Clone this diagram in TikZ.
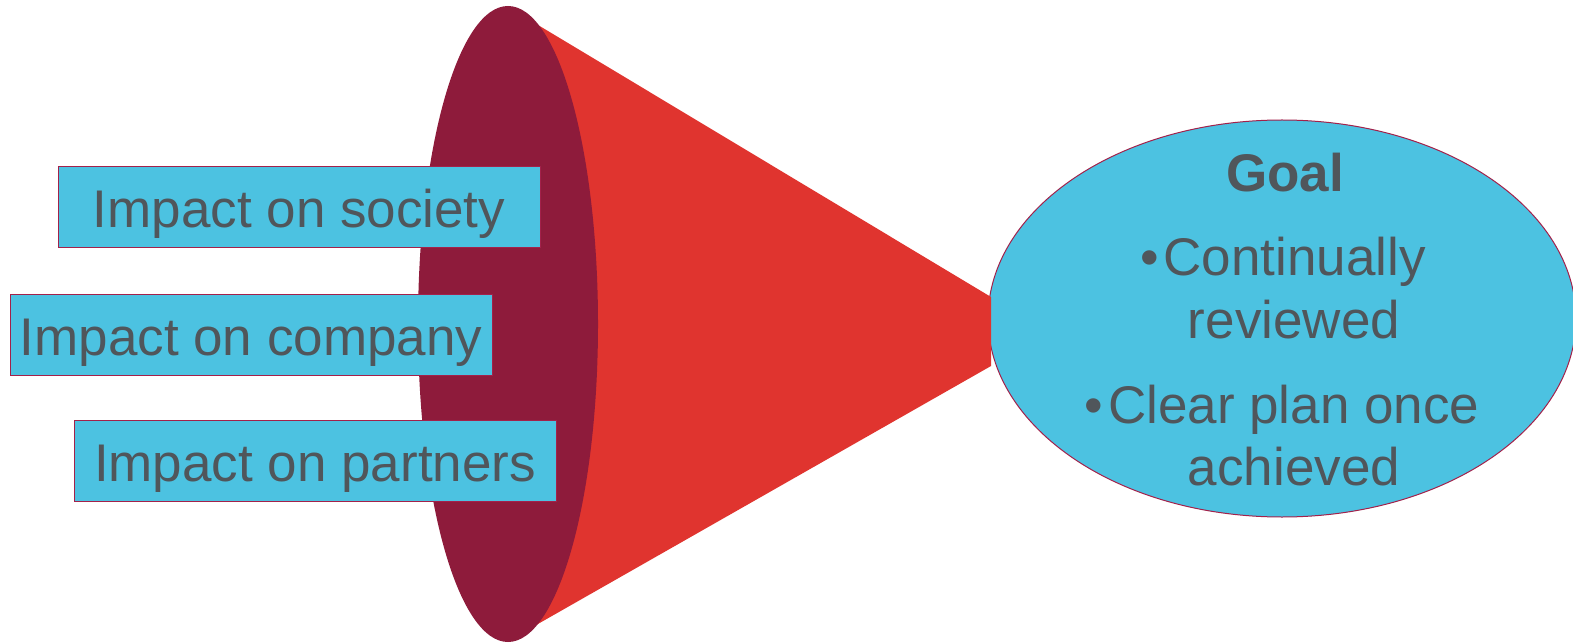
\documentclass[tikz,border=0pt]{standalone}
\usepackage{fontspec}
\setmainfont{Liberation Sans}
\usetikzlibrary{shapes.geometric}
\definecolor{boxblue}{HTML}{4CC2E1}
\definecolor{wine}{HTML}{8E1B3B}
\definecolor{conered}{HTML}{E0342F}
\definecolor{inkgray}{HTML}{50565B}
\definecolor{edgered}{HTML}{A3214A}
\begin{document}
\begin{tikzpicture}[x=1pt,y=-1pt,
  bigtext/.style={font=\fontsize{53}{62}\selectfont, text=inkgray},
  impactbox/.style={bigtext, draw=edgered, line width=1pt, fill=boxblue,
    minimum width=482pt, minimum height=81pt, inner sep=0pt,
    text height=41pt, text depth=0pt},
  goalline/.style={bigtext, inner sep=0pt, anchor=base}]
\useasboundingbox (0,0) rectangle (1573,644);
\fill[white] (0,0) rectangle (1573,644);

% goal ellipse on the right
\node[ellipse, draw=edgered, line width=1pt, fill=boxblue,
      minimum width=588pt, minimum height=397pt, inner sep=0pt] (goal) at (1282,318.5) {};

% funnel cone and its mouth
\fill[conered] (508,7) -- (991,297) -- (991,366) -- (508,641) -- cycle;
\node[ellipse, fill=wine, minimum width=180pt, minimum height=636pt, inner sep=0pt] (mouth) at (508,324) {};

% impact boxes entering the funnel
\node[impactbox] (society)  at (299,207.5) {Impact on society};
\node[impactbox] (company)  at (251,335)   {Impact on company};
\node[impactbox] (partners) at (315,461)   {Impact on partners};

% goal text
\node[goalline, font=\fontsize{53}{62}\selectfont\bfseries] (title) at (1285,192) {Goal};
\node[goalline] (bulletA) at (1283,276) {•\kern5pt Continually};
\node[goalline] (contA)   at (1294,338) {reviewed};
\node[goalline] (bulletB) at (1282,423) {•\kern5pt Clear plan once};
\node[goalline] (contB)   at (1294,485) {achieved};
\end{tikzpicture}
\end{document}
